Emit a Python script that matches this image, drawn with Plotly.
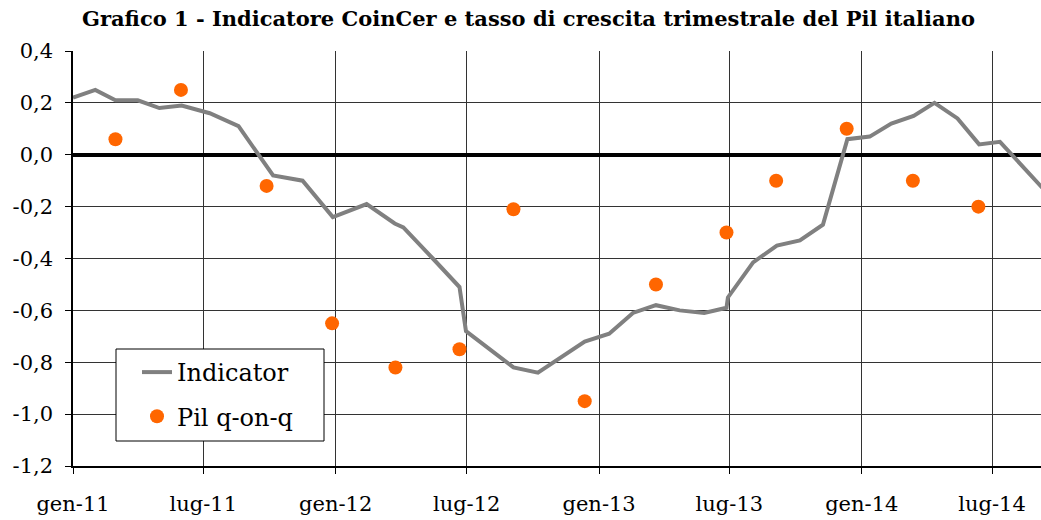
import plotly.graph_objects as go

# Indicator CoinCer (line)
ind_dates = ["2011-01-01", "2011-02-01", "2011-03-01", "2011-04-01", "2011-05-01", "2011-06-01",
             "2011-07-10", "2011-08-19", "2011-10-06", "2011-11-16", "2011-12-28", "2012-02-13",
             "2012-03-23", "2012-04-04", "2012-05-15", "2012-06-21", "2012-06-30", "2012-09-04",
             "2012-10-08", "2012-12-12", "2013-01-15", "2013-02-17", "2013-03-21", "2013-04-23",
             "2013-05-27", "2013-06-27", "2013-06-29", "2013-08-03", "2013-09-05", "2013-10-07",
             "2013-11-08", "2013-12-12", "2014-01-12", "2014-02-11", "2014-03-14", "2014-04-12",
             "2014-05-14", "2014-06-13", "2014-07-12", "2014-08-13", "2014-09-13"]
ind_values = [0.22, 0.25, 0.21, 0.21, 0.18, 0.19,
              0.16, 0.11, -0.08, -0.10, -0.24, -0.19,
              -0.265, -0.28, -0.40, -0.51, -0.68, -0.82,
              -0.84, -0.72, -0.69, -0.61, -0.58, -0.60,
              -0.61, -0.59, -0.55, -0.415, -0.35, -0.33,
              -0.27, 0.06, 0.07, 0.12, 0.15, 0.20,
              0.14, 0.04, 0.05, -0.045, -0.14]

# Pil q-on-q (markers)
pil_dates = ["2011-03-01", "2011-05-31", "2011-09-27", "2011-12-27", "2012-03-24", "2012-06-21",
             "2012-09-04", "2012-12-12", "2013-03-21", "2013-06-27", "2013-09-04", "2013-12-11",
             "2014-03-13", "2014-06-12"]
pil_values = [0.06, 0.25, -0.12, -0.65, -0.82, -0.75,
              -0.21, -0.95, -0.50, -0.30, -0.10, 0.10,
              -0.10, -0.20]

x_tickvals = ["2011-01-01", "2011-07-01", "2012-01-01", "2012-07-01", "2013-01-01",
              "2013-07-01", "2014-01-01", "2014-07-01"]
x_ticktext = ["gen-11", "lug-11", "gen-12", "lug-12", "gen-13", "lug-13", "gen-14", "lug-14"]
y_tickvals = [0.4, 0.2, 0.0, -0.2, -0.4, -0.6, -0.8, -1.0, -1.2]
y_ticktext = ["0,4", "0,2", "0,0", "-0,2", "-0,4", "-0,6", "-0,8", "-1,0", "-1,2"]

title_text = "Grafico 1 - Indicatore CoinCer e tasso di crescita trimestrale del Pil italiano"

FONT = "DejaVu Serif"
L, R, T, B = 73, 1041, 51, 466
PW, PH = R - L, B - T


def px(x):
    return (x - L) / PW


def py(y):
    return (B - y) / PH


fig = go.Figure()
fig.add_trace(go.Scatter(
    x=ind_dates, y=ind_values, mode="lines", name="Indicator",
    line=dict(color="#808080", width=4), legendgroup="a",
))
fig.add_trace(go.Scatter(
    x=pil_dates, y=pil_values, mode="markers", name="Pil q-on-q",
    marker=dict(color="#FF6600", size=14), legendgroup="b",
))

fig.update_layout(
    width=1041, height=520,
    margin=dict(l=L, r=1041 - R, t=T, b=520 - B, autoexpand=False),
    paper_bgcolor="white", plot_bgcolor="white",
    font=dict(family=FONT, color="black", size=21),
    title=dict(text="<b>" + title_text + "</b>", xref="container", yref="container",
               x=528.5 / 1041, xanchor="center", y=1 - 18.5 / 520, yanchor="middle",
               font=dict(family=FONT, size=21, color="black")),
    showlegend=True,
    legend=dict(x=px(137), y=py(350), xanchor="left", yanchor="top",
                bgcolor="rgba(0,0,0,0)", borderwidth=0,
                font=dict(family=FONT, size=24, color="black"),
                tracegroupgap=10),
    shapes=[dict(type="rect", xref="paper", yref="paper",
                 x0=px(116), x1=px(324), y0=py(441), y1=py(349),
                 fillcolor="white", line=dict(color="black", width=1), layer="above")],
    xaxis=dict(type="date", range=["2011-01-01", "2014-09-07"],
               tickvals=x_tickvals, ticktext=x_ticktext,
               showgrid=True, gridcolor="#333333", gridwidth=1,
               showline=True, linecolor="black", linewidth=1.5,
               ticks="outside", ticklen=6, tickcolor="black",
               zeroline=False, tickfont=dict(size=21),
               automargin=False, ticklabelstandoff=12),
    yaxis=dict(range=[-1.2, 0.4], tickvals=y_tickvals, ticktext=y_ticktext,
               showgrid=True, gridcolor="#333333", gridwidth=1,
               showline=True, linecolor="black", linewidth=1.5,
               ticks="outside", ticklen=6, tickcolor="black",
               zeroline=True, zerolinecolor="black", zerolinewidth=4,
               tickfont=dict(size=21), automargin=False, ticklabelstandoff=8),
)

fig.write_html(
    "out.html",
    config={"displayModeBar": False},
    post_script="document.body.style.margin='0';document.body.style.overflow='hidden';",
)
